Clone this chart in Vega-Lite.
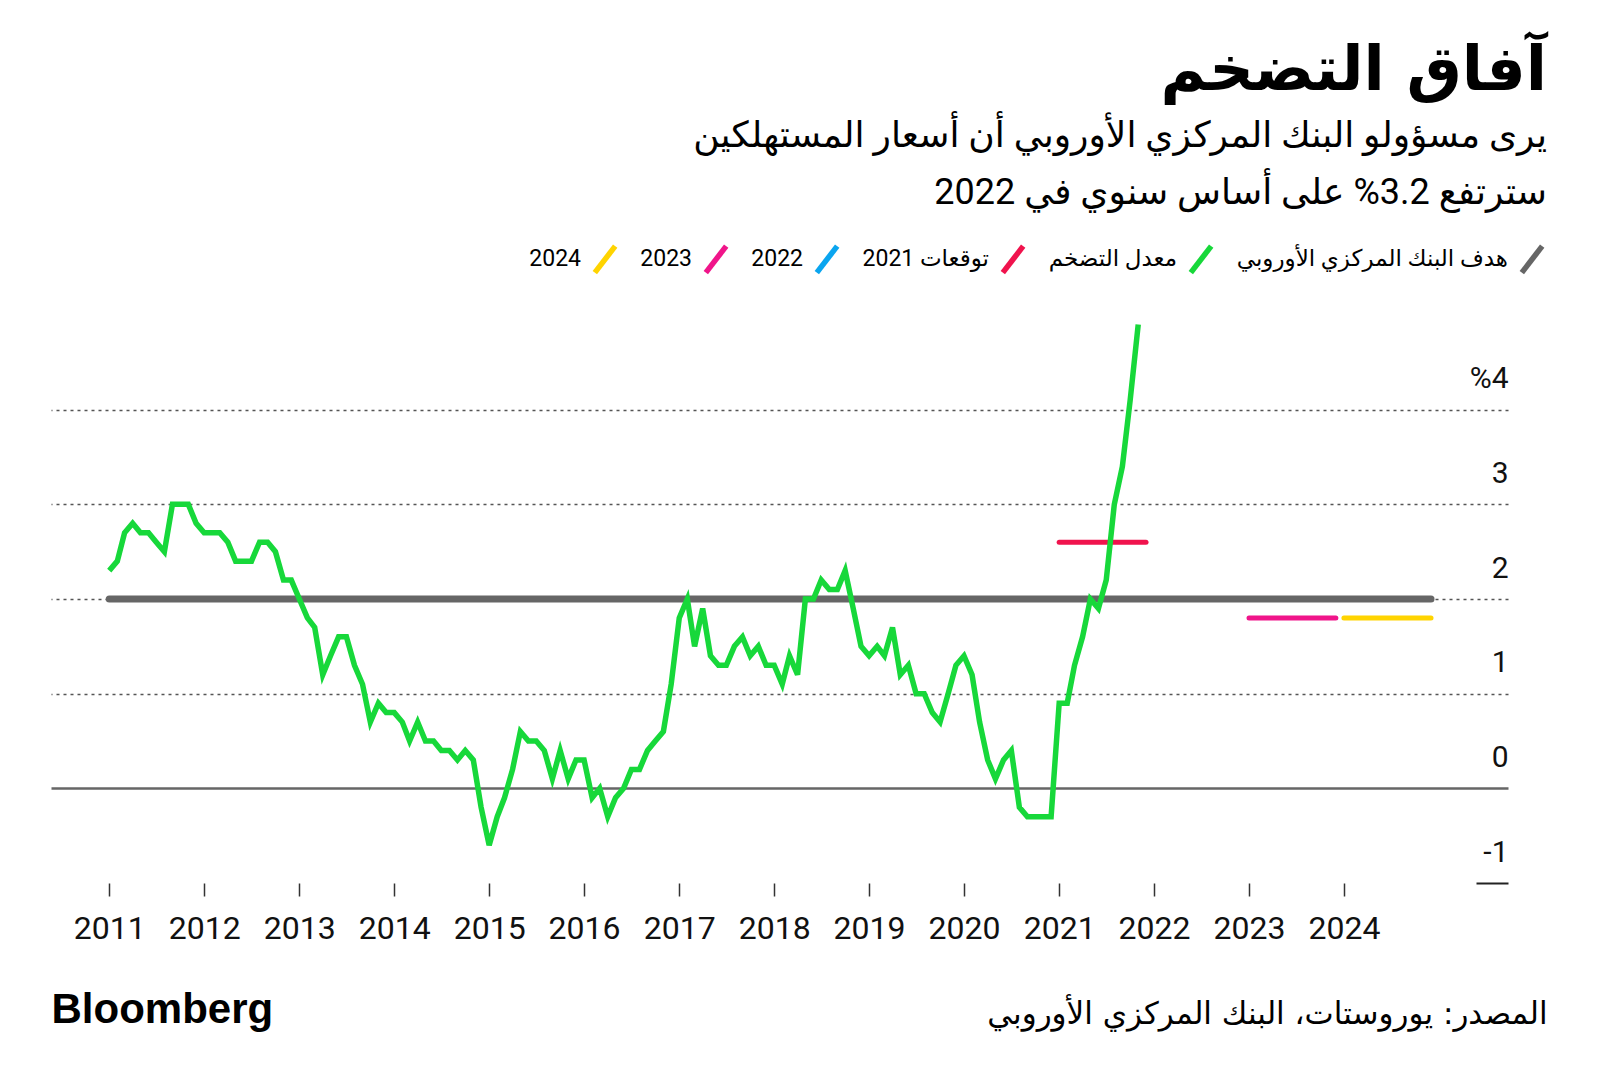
{
  "$schema": "https://vega.github.io/schema/vega-lite/v6.json",
  "width": 1457,
  "height": 568,
  "autosize": {"type": "none"},
  "padding": {"left": 51, "top": 315, "right": 92, "bottom": 206},
  "background": "white",
  "config": {"view": {"stroke": null}, "font": "Roboto, DejaVu Sans"},
  "title": {
    "text": "آفاق التضخم",
    "subtitle": ["يرى مسؤولو البنك المركزي الأوروبي أن أسعار المستهلكين", "سترتفع 3.2% على أساس سنوي في 2022"],
    "anchor": "end",
    "frame": "group",
    "dx": 39,
    "offset": 31,
    "font": "DejaVu Sans",
    "fontSize": 62,
    "fontWeight": "bold",
    "color": "#000",
    "subtitleFont": "Roboto, DejaVu Sans",
    "subtitleFontSize": 36,
    "subtitleColor": "#000",
    "subtitleLineHeight": 57,
    "subtitlePadding": 16
  },
  "datasets": {
    "cpi": [
      {"s":"cpi","date":"2011-01-01","value":2.3},{"s":"cpi","date":"2011-02-01","value":2.4},{"s":"cpi","date":"2011-03-01","value":2.7},{"s":"cpi","date":"2011-04-01","value":2.8},{"s":"cpi","date":"2011-05-01","value":2.7},{"s":"cpi","date":"2011-06-01","value":2.7},{"s":"cpi","date":"2011-07-01","value":2.6},{"s":"cpi","date":"2011-08-01","value":2.5},{"s":"cpi","date":"2011-09-01","value":3.0},{"s":"cpi","date":"2011-10-01","value":3.0},{"s":"cpi","date":"2011-11-01","value":3.0},{"s":"cpi","date":"2011-12-01","value":2.8},
      {"s":"cpi","date":"2012-01-01","value":2.7},{"s":"cpi","date":"2012-02-01","value":2.7},{"s":"cpi","date":"2012-03-01","value":2.7},{"s":"cpi","date":"2012-04-01","value":2.6},{"s":"cpi","date":"2012-05-01","value":2.4},{"s":"cpi","date":"2012-06-01","value":2.4},{"s":"cpi","date":"2012-07-01","value":2.4},{"s":"cpi","date":"2012-08-01","value":2.6},{"s":"cpi","date":"2012-09-01","value":2.6},{"s":"cpi","date":"2012-10-01","value":2.5},{"s":"cpi","date":"2012-11-01","value":2.2},{"s":"cpi","date":"2012-12-01","value":2.2},
      {"s":"cpi","date":"2013-01-01","value":2.0},{"s":"cpi","date":"2013-02-01","value":1.8},{"s":"cpi","date":"2013-03-01","value":1.7},{"s":"cpi","date":"2013-04-01","value":1.2},{"s":"cpi","date":"2013-05-01","value":1.4},{"s":"cpi","date":"2013-06-01","value":1.6},{"s":"cpi","date":"2013-07-01","value":1.6},{"s":"cpi","date":"2013-08-01","value":1.3},{"s":"cpi","date":"2013-09-01","value":1.1},{"s":"cpi","date":"2013-10-01","value":0.7},{"s":"cpi","date":"2013-11-01","value":0.9},{"s":"cpi","date":"2013-12-01","value":0.8},
      {"s":"cpi","date":"2014-01-01","value":0.8},{"s":"cpi","date":"2014-02-01","value":0.7},{"s":"cpi","date":"2014-03-01","value":0.5},{"s":"cpi","date":"2014-04-01","value":0.7},{"s":"cpi","date":"2014-05-01","value":0.5},{"s":"cpi","date":"2014-06-01","value":0.5},{"s":"cpi","date":"2014-07-01","value":0.4},{"s":"cpi","date":"2014-08-01","value":0.4},{"s":"cpi","date":"2014-09-01","value":0.3},{"s":"cpi","date":"2014-10-01","value":0.4},{"s":"cpi","date":"2014-11-01","value":0.3},{"s":"cpi","date":"2014-12-01","value":-0.2},
      {"s":"cpi","date":"2015-01-01","value":-0.6},{"s":"cpi","date":"2015-02-01","value":-0.3},{"s":"cpi","date":"2015-03-01","value":-0.1},{"s":"cpi","date":"2015-04-01","value":0.2},{"s":"cpi","date":"2015-05-01","value":0.6},{"s":"cpi","date":"2015-06-01","value":0.5},{"s":"cpi","date":"2015-07-01","value":0.5},{"s":"cpi","date":"2015-08-01","value":0.4},{"s":"cpi","date":"2015-09-01","value":0.1},{"s":"cpi","date":"2015-10-01","value":0.4},{"s":"cpi","date":"2015-11-01","value":0.1},{"s":"cpi","date":"2015-12-01","value":0.3},
      {"s":"cpi","date":"2016-01-01","value":0.3},{"s":"cpi","date":"2016-02-01","value":-0.1},{"s":"cpi","date":"2016-03-01","value":0.0},{"s":"cpi","date":"2016-04-01","value":-0.3},{"s":"cpi","date":"2016-05-01","value":-0.1},{"s":"cpi","date":"2016-06-01","value":0.0},{"s":"cpi","date":"2016-07-01","value":0.2},{"s":"cpi","date":"2016-08-01","value":0.2},{"s":"cpi","date":"2016-09-01","value":0.4},{"s":"cpi","date":"2016-10-01","value":0.5},{"s":"cpi","date":"2016-11-01","value":0.6},{"s":"cpi","date":"2016-12-01","value":1.1},
      {"s":"cpi","date":"2017-01-01","value":1.8},{"s":"cpi","date":"2017-02-01","value":2.0},{"s":"cpi","date":"2017-03-01","value":1.5},{"s":"cpi","date":"2017-04-01","value":1.9},{"s":"cpi","date":"2017-05-01","value":1.4},{"s":"cpi","date":"2017-06-01","value":1.3},{"s":"cpi","date":"2017-07-01","value":1.3},{"s":"cpi","date":"2017-08-01","value":1.5},{"s":"cpi","date":"2017-09-01","value":1.6},{"s":"cpi","date":"2017-10-01","value":1.4},{"s":"cpi","date":"2017-11-01","value":1.5},{"s":"cpi","date":"2017-12-01","value":1.3},
      {"s":"cpi","date":"2018-01-01","value":1.3},{"s":"cpi","date":"2018-02-01","value":1.1},{"s":"cpi","date":"2018-03-01","value":1.4},{"s":"cpi","date":"2018-04-01","value":1.2},{"s":"cpi","date":"2018-05-01","value":2.0},{"s":"cpi","date":"2018-06-01","value":2.0},{"s":"cpi","date":"2018-07-01","value":2.2},{"s":"cpi","date":"2018-08-01","value":2.1},{"s":"cpi","date":"2018-09-01","value":2.1},{"s":"cpi","date":"2018-10-01","value":2.3},{"s":"cpi","date":"2018-11-01","value":1.9},{"s":"cpi","date":"2018-12-01","value":1.5},
      {"s":"cpi","date":"2019-01-01","value":1.4},{"s":"cpi","date":"2019-02-01","value":1.5},{"s":"cpi","date":"2019-03-01","value":1.4},{"s":"cpi","date":"2019-04-01","value":1.7},{"s":"cpi","date":"2019-05-01","value":1.2},{"s":"cpi","date":"2019-06-01","value":1.3},{"s":"cpi","date":"2019-07-01","value":1.0},{"s":"cpi","date":"2019-08-01","value":1.0},{"s":"cpi","date":"2019-09-01","value":0.8},{"s":"cpi","date":"2019-10-01","value":0.7},{"s":"cpi","date":"2019-11-01","value":1.0},{"s":"cpi","date":"2019-12-01","value":1.3},
      {"s":"cpi","date":"2020-01-01","value":1.4},{"s":"cpi","date":"2020-02-01","value":1.2},{"s":"cpi","date":"2020-03-01","value":0.7},{"s":"cpi","date":"2020-04-01","value":0.3},{"s":"cpi","date":"2020-05-01","value":0.1},{"s":"cpi","date":"2020-06-01","value":0.3},{"s":"cpi","date":"2020-07-01","value":0.4},{"s":"cpi","date":"2020-08-01","value":-0.2},{"s":"cpi","date":"2020-09-01","value":-0.3},{"s":"cpi","date":"2020-10-01","value":-0.3},{"s":"cpi","date":"2020-11-01","value":-0.3},{"s":"cpi","date":"2020-12-01","value":-0.3},
      {"s":"cpi","date":"2021-01-01","value":0.9},{"s":"cpi","date":"2021-02-01","value":0.9},{"s":"cpi","date":"2021-03-01","value":1.3},{"s":"cpi","date":"2021-04-01","value":1.6},{"s":"cpi","date":"2021-05-01","value":2.0},{"s":"cpi","date":"2021-06-01","value":1.9},{"s":"cpi","date":"2021-07-01","value":2.2},{"s":"cpi","date":"2021-08-01","value":3.0},{"s":"cpi","date":"2021-09-01","value":3.4},{"s":"cpi","date":"2021-10-01","value":4.1},{"s":"cpi","date":"2021-11-01","value":4.9}
    ],
    "lines": [
      {"s":"target","date":"2011-01-01","value":2.0},{"s":"target","date":"2024-12-01","value":2.0},
      {"s":"f2021","date":"2021-01-01","value":2.6},{"s":"f2021","date":"2021-12-01","value":2.6},
      {"s":"f2023","date":"2023-01-01","value":1.8},{"s":"f2023","date":"2023-12-01","value":1.8},
      {"s":"f2024","date":"2024-01-01","value":1.8},{"s":"f2024","date":"2024-12-01","value":1.8}
    ]
  },
  "encoding": {
    "x": {
      "field": "date",
      "type": "temporal",
      "scale": {"type": "utc", "domain": [{"year": 2010, "month": 5, "date": 22, "utc": true}, {"year": 2025, "month": 9, "date": 23, "utc": true}]},
      "axis": {
        "values": [
          {"year": 2011, "month": 1, "date": 1, "utc": true},{"year": 2012, "month": 1, "date": 1, "utc": true},{"year": 2013, "month": 1, "date": 1, "utc": true},{"year": 2014, "month": 1, "date": 1, "utc": true},{"year": 2015, "month": 1, "date": 1, "utc": true},{"year": 2016, "month": 1, "date": 1, "utc": true},{"year": 2017, "month": 1, "date": 1, "utc": true},{"year": 2018, "month": 1, "date": 1, "utc": true},{"year": 2019, "month": 1, "date": 1, "utc": true},{"year": 2020, "month": 1, "date": 1, "utc": true},{"year": 2021, "month": 1, "date": 1, "utc": true},{"year": 2022, "month": 1, "date": 1, "utc": true},{"year": 2023, "month": 1, "date": 1, "utc": true},{"year": 2024, "month": 1, "date": 1, "utc": true}
        ],
        "format": "%Y",
        "domain": false,
        "grid": false,
        "ticks": true,
        "tickSize": 13,
        "tickWidth": 1.5,
        "tickColor": "#333",
        "labelFont": "Roboto",
        "labelFontSize": 32,
        "labelColor": "#111",
        "labelPadding": 17,
        "labelFlush": false,
        "labelOverlap": false,
        "title": "المصدر: يوروستات، البنك المركزي الأوروبي",
        "titleFont": "DejaVu Sans",
        "titleFontSize": 31,
        "titleFontWeight": "normal",
        "titleColor": "#000",
        "titleAlign": "right",
        "titleAnchor": "end",
        "titleBaseline": "alphabetic",
        "titleX": 1496,
        "titleY": 140
      }
    },
    "y": {
      "field": "value",
      "type": "quantitative",
      "scale": {"domain": [-1, 5], "nice": false, "zero": false},
      "axis": {
        "orient": "right",
        "values": [-1, 0, 1, 2, 3, 4],
        "domain": false,
        "grid": true,
        "gridDash": {"condition": {"test": "datum.value === 0", "value": []}, "value": [3, 4]},
        "gridColor": {"condition": {"test": "datum.value === 0", "value": "#666"}, "value": "#555"},
        "gridWidth": {"condition": {"test": "datum.value === 0", "value": 2.5}, "value": 1.6},
        "gridOpacity": {"condition": {"test": "datum.value === -1", "value": 0}, "value": 1},
        "ticks": true,
        "tickSize": -32,
        "tickWidth": 2,
        "tickColor": "#222",
        "tickOpacity": {"condition": {"test": "datum.value === -1", "value": 1}, "value": 0},
        "labelAlign": "right",
        "labelBaseline": "alphabetic",
        "labelOffset": -22,
        "labelPadding": 32,
        "labelExpr": "datum.value == 4 ? '%4' : (datum.value == -1 ? '-1' : datum.label)",
        "labelFont": "Roboto",
        "labelFontSize": 30,
        "labelColor": "#111",
        "title": "Bloomberg",
        "titleAngle": 0,
        "titleX": -1457,
        "titleY": 707,
        "titleAlign": "left",
        "titleBaseline": "alphabetic",
        "titleFont": "Liberation Sans",
        "titleFontSize": 42,
        "titleFontWeight": "bold",
        "titleColor": "#000"
      }
    },
    "color": {
      "field": "s",
      "type": "nominal",
      "scale": {
        "domain": ["f2024", "f2023", "f2022", "f2021", "cpi", "target"],
        "range": ["#ffd400", "#f0158a", "#0aa5ef", "#f0134d", "#17d83a", "#666666"]
      },
      "legend": {
        "orient": "none",
        "legendX": 538,
        "legendY": -72,
        "direction": "horizontal",
        "title": null,
        "symbolType": "M-0.77,1L0.77,-1",
        "symbolSize": 700,
        "symbolStrokeWidth": 5.5,
        "symbolOpacity": 1,
        "labelFont": "Roboto, DejaVu Sans",
        "labelFontSize": 23,
        "labelColor": "#000",
        "labelAlign": "right",
        "labelOffset": -40,
        "labelLimit": 0,
        "columnPadding": 13,
        "labelExpr": "{'target': 'هدف البنك المركزي الأوروبي', 'cpi': 'معدل التضخم', 'f2021': 'توقعات 2021', 'f2022': '2022', 'f2023': '2023', 'f2024': '2024'}[datum.label]"
      }
    }
  },
  "layer": [
    {
      "data": {"name": "lines"},
      "transform": [{"filter": "datum.s === 'target'"}],
      "mark": {"type": "line", "strokeWidth": 7, "strokeCap": "round"}
    },
    {
      "data": {"name": "lines"},
      "transform": [{"filter": "datum.s !== 'target'"}],
      "mark": {"type": "line", "strokeWidth": 5, "strokeCap": "round"}
    },
    {
      "data": {"name": "cpi"},
      "mark": {"type": "line", "strokeWidth": 5.5}
    }
  ]
}
